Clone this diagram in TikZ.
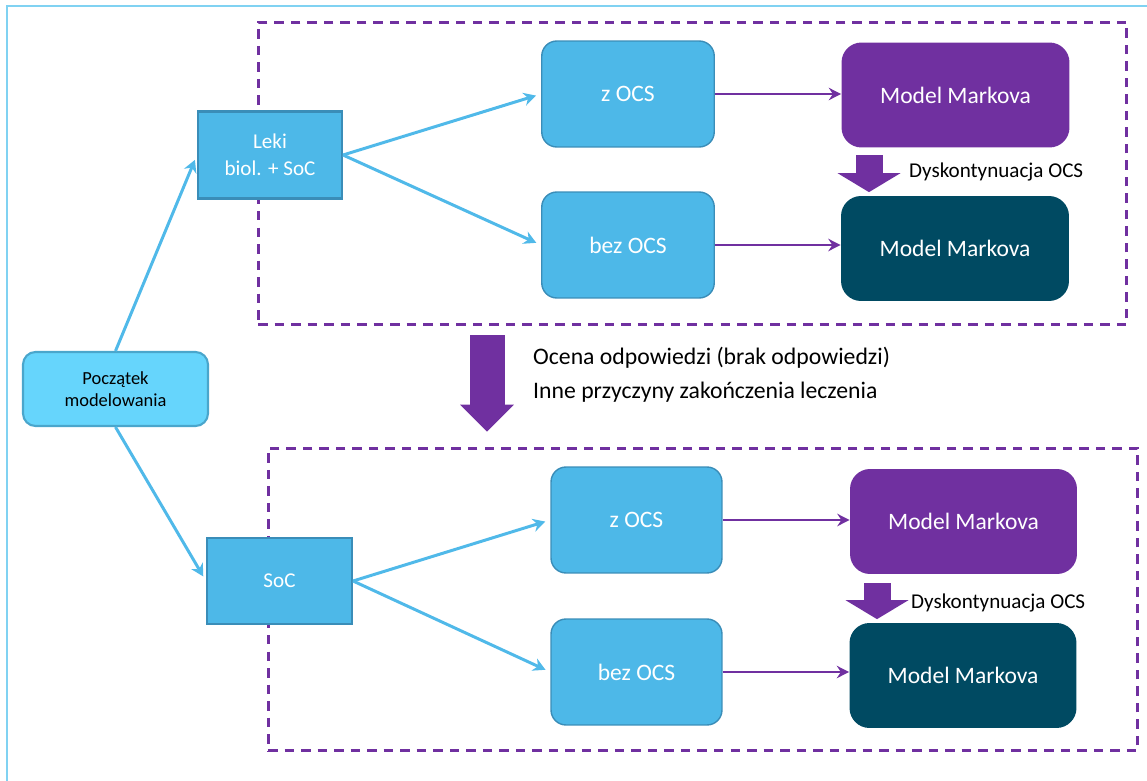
\documentclass[tikz,border=0pt]{standalone}
\usepackage{fontspec}
\setmainfont{Carlito}
\usetikzlibrary{positioning,arrows.meta}
\definecolor{ocsblue}{HTML}{4DB8E8}
\definecolor{ocsedge}{HTML}{3A8DB8}
\definecolor{startfill}{HTML}{66D5FC}
\definecolor{startedge}{HTML}{4AA6CC}
\definecolor{markpurple}{HTML}{7030A0}
\definecolor{markteal}{HTML}{004A62}
\definecolor{linkblue}{HTML}{50B9E9}
\definecolor{frameblue}{HTML}{80D2F2}

\begin{document}
\begin{tikzpicture}[x=0.02cm, y=-0.02cm,
  every node/.style={font=\fontsize{13.4}{16}\selectfont},
  startbox/.style={draw=startedge, line width=1.2pt, fill=startfill, rounded corners=0.25cm, minimum width=3.7cm, minimum height=1.48cm, align=center, font=\fontsize{10.5}{12.5}\selectfont},
  armbox/.style={draw=ocsedge, line width=1.2pt, fill=ocsblue, text=white, minimum width=2.88cm, minimum height=1.74cm, align=center, font=\fontsize{12}{15.4}\selectfont},
  ocsbox/.style={draw=ocsedge, line width=0.8pt, fill=ocsblue, text=white, rounded corners=0.3cm, minimum width=3.45cm, minimum height=2.12cm},
  markovbox/.style={fill=markpurple, text=white, rounded corners=0.4cm, minimum width=4.56cm, minimum height=2.1cm},
  markovdark/.style={markovbox, fill=markteal},
  groupbox/.style={draw=markpurple, line width=1.7pt, dash pattern=on 5.4pt off 4pt, minimum width=17.38cm, minimum height=6.06cm},
  link/.style={draw=linkblue, line width=1.7pt, -{Stealth[length=7pt, width=7.5pt]}, shorten >=3pt},
  flow/.style={draw=markpurple, line width=1.1pt, -{Stealth[length=7pt, width=7pt]}},
  blockarr/.style={draw=markpurple, line width=0.54cm, -{Triangle[length=0.38cm, width=1.26cm, line width=0pt]}},
  bigarr/.style={draw=markpurple, line width=0.7cm, -{Triangle[length=0.54cm, width=1.08cm, line width=0pt]}},
  note/.style={font=\fontsize{12}{14}\selectfont, anchor=west}
]
\useasboundingbox (0,0) rectangle (1147,781);
\draw[frameblue, line width=1.4pt] (7,6) rectangle (1180,820);

% grupy
\node[groupbox] (grp1) at (692.5,173.5) {};
\node[groupbox, minimum width=17.4cm] (grp2) at (703,599.5) {};

\node[startbox] (start) at (115.5,389) {Początek\\modelowania};
\node[armbox] (leki) at (270,155) {Leki\\biol. + SoC};
\node[armbox, minimum width=2.9cm, minimum height=1.72cm] (soc) at (279.5,581) {SoC};

% gora
\node[ocsbox] (zocs1) at (628,94) {z OCS};
\node[ocsbox] (bez1) at (628,245) {bez OCS};
\node[markovbox] (mm1) at (955.5,95) {Model Markova};
\node[markovdark] (mmd1) at (955,248.5) {Model Markova};

% dol
\node[ocsbox, minimum width=3.42cm] (zocs2) at (636.5,520) {z OCS};
\node[ocsbox, minimum width=3.42cm] (bez2) at (636.5,672) {bez OCS};
\node[markovbox, minimum width=4.54cm] (mm2) at (963.5,521.5) {Model Markova};
\node[markovdark, minimum width=4.54cm] (mmd2) at (963,675.5) {Model Markova};

\draw[link] (start.north) -- (leki.west);
\draw[link] (start.south) -- (soc.west);
\draw[link] (leki.east) -- (zocs1.west);
\draw[link] (leki.east) -- (bez1.west);
\draw[link] (soc.east) -- (zocs2.west);
\draw[link] (soc.east) -- (bez2.west);

\draw[flow] (zocs1.east) -- (zocs1.east -| mm1.west);
\draw[flow] (bez1.east) -- (bez1.east -| mmd1.west);
\draw[flow] (zocs2.east) -- (zocs2.east -| mm2.west);
\draw[flow] (bez2.east) -- (bez2.east -| mmd2.west);

% dyskontynuacja
\coordinate (dys1) at (869,155);
\coordinate (dys2) at (877,583);
\draw[blockarr] (dys1) -- ([yshift=2pt]dys1 |- mmd1.north);
\draw[blockarr] (dys2) -- ([yshift=2pt]dys2 |- mmd2.north);
\node[note] (dk1) at (903,172) {Dyskontynuacja OCS};
\node[note] (dk2) at (905,603) {Dyskontynuacja OCS};

\coordinate (mid) at (487,0);
\draw[bigarr, shorten <=5pt, shorten >=8.5pt] (grp1.south -| mid) -- (grp2.north -| mid);
\node[anchor=west, align=left, font=\fontsize{13.5}{19.3}\selectfont] (ocena) at (527,375)
  {Ocena odpowiedzi (brak odpowiedzi)\\Inne przyczyny zakończenia leczenia};
\end{tikzpicture}
\end{document}
